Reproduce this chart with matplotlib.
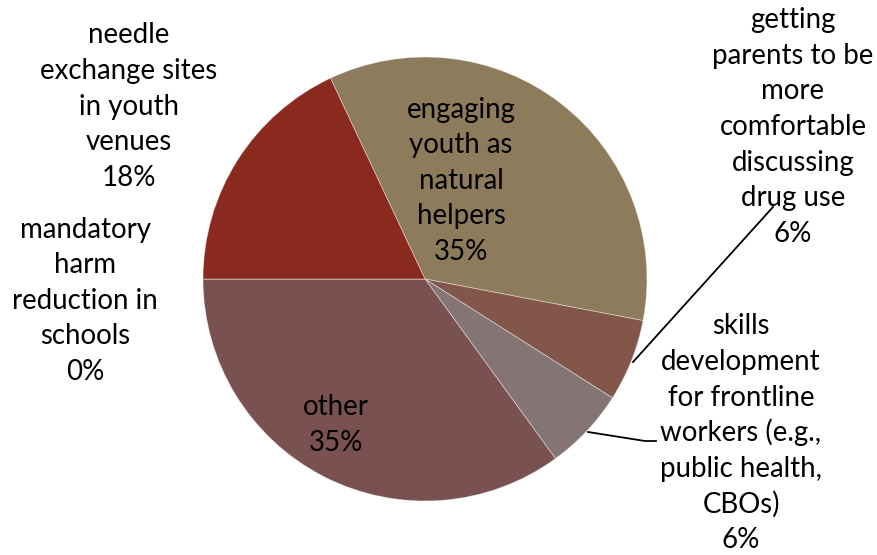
import matplotlib
matplotlib.use("Agg")
import matplotlib.pyplot as plt

# Survey responses (share of respondents, %)
categories = [
    "engaging\nyouth as\nnatural\nhelpers",
    "getting\nparents to be\nmore\ncomfortable\ndiscussing\ndrug use",
    "skills\ndevelopment\nfor frontline\nworkers (e.g.,\npublic health,\nCBOs)",
    "other",
    "mandatory\nharm\nreduction in\nschools",
    "needle\nexchange sites\nin youth\nvenues",
]
shares = [35, 6, 6, 35, 0, 18]
colors = ["#8D7C5C", "#83564A", "#847474", "#795151", "#8A8A8A", "#8A2A1F"]

W, H, DPI = 877, 555, 100
fig = plt.figure(figsize=(W / DPI, H / DPI), dpi=DPI)
ax = fig.add_axes([0, 0, 1, 1])

cx, cy, r = 425, H - 279, 222
ax.pie(shares, colors=colors, startangle=115.2,
       counterclock=False, center=(cx, cy), radius=r, frame=True,
       wedgeprops=dict(edgecolor=(1, 1, 1, 0.45), linewidth=0.6))
ax.set_xlim(0, W)
ax.set_ylim(0, H)
ax.set_aspect("equal")
ax.axis("off")

LINE_GAP = 35.6  # baseline-to-baseline distance, px

# label anchor: (x centre, last-line baseline) in pixels from top-left
label_pos = [(461, 260), (793, 241.7), (741, 548), (336, 450.7), (85, 380), (129, 185.7)]

for name, val, (x, yb) in zip(categories, shares, label_pos):
    lines = name.split("\n") + [f"{val}%"]
    n = len(lines)
    for i, line in enumerate(lines):
        y = yb - (n - 1 - i) * LINE_GAP
        ax.text(x, H - y, line, ha="center", va="baseline",
                family="Lato", fontsize=19.9, color="black")

# leader lines for the two narrow slices
ax.plot([633, 773], [H - 362, H - 207], color="black", lw=1.3)
ax.plot([588, 645, 656], [H - 432, H - 441, H - 441], color="black", lw=1.3)

fig.savefig("out.png", dpi=DPI)
